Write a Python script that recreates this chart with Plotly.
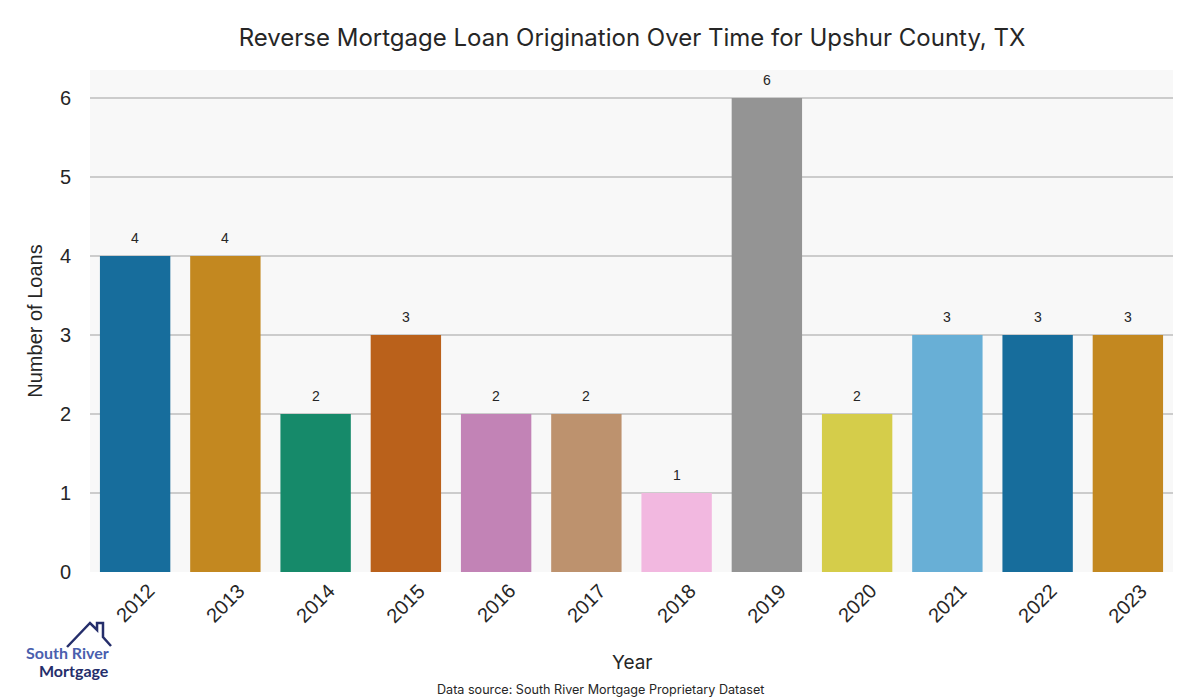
import plotly.graph_objects as go

years = ["2012", "2013", "2014", "2015", "2016", "2017", "2018", "2019", "2020", "2021", "2022", "2023"]
loans = [4, 4, 2, 3, 2, 2, 1, 6, 2, 3, 3, 3]
colors = ["#176d9c", "#c38820", "#168a6a", "#ba611b", "#c283b6", "#bd926e",
          "#f2b8e0", "#949494", "#d5cd4a", "#68afd6", "#176d9c", "#c38820"]

W, H = 1200, 700
ml, mt = 90, 70
mr = W - 1173
mb = H - 572
pw, ph = W - ml - mr, H - mt - mb


def px(x):  # page pixel -> paper
    return (x - ml) / pw


def py(y):
    return (H - mb - y) / ph


title_font = "Inter, Lato, sans-serif"
tick_font = "Liberation Sans, Arial, sans-serif"

fig = go.Figure()
fig.add_trace(go.Bar(
    x=years, y=loans, marker=dict(color=colors, line=dict(width=0)),
    width=0.78, showlegend=False, hoverinfo="x+y",
))

for i, v in enumerate(loans):
    fig.add_annotation(x=i, y=v, text=str(v), showarrow=False, yshift=18,
                       font=dict(family=tick_font, size=14, color="#262626"))

# rotated, centred category labels
for i, yr in enumerate(years):
    fig.add_annotation(x=i, y=0, text=yr, showarrow=False, yshift=-31, textangle=-45,
                       xanchor="center", yanchor="middle",
                       font=dict(family=tick_font, size=20, color="#262626"))

fig.add_annotation(x=px(632), y=py(662), xref="paper", yref="paper", text="Year",
                   showarrow=False, font=dict(family=title_font, size=19, color="#262626"),
                   xanchor="center", yanchor="middle")
fig.add_annotation(x=px(600), y=py(689), xref="paper", yref="paper",
                   text="Data source: South River Mortgage Proprietary Dataset",
                   showarrow=False, font=dict(family=title_font, size=12.6, color="#262626"),
                   xanchor="center", yanchor="middle")

# logo
fig.add_annotation(x=px(111), y=py(652), xref="paper", yref="paper", text="<b>South River</b>",
                   showarrow=False, font=dict(family="Lato, sans-serif", size=16, color="#4a5fae"),
                   xanchor="right", yanchor="middle")
fig.add_annotation(x=px(111), y=py(670), xref="paper", yref="paper", text="<b>Mortgage</b>",
                   showarrow=False, font=dict(family="Lato, sans-serif", size=16, color="#252e6b"),
                   xanchor="right", yanchor="middle")
pts = [(67, 647), (90, 623), (97, 630), (97, 623), (103, 623), (103, 637), (111, 646)]
path = "M " + " L ".join(f"{px(a):.4f},{py(b):.4f}" for a, b in pts)
fig.add_shape(type="path", path=path, xref="paper", yref="paper",
              line=dict(color="#252e6b", width=2.5))

fig.update_layout(
    width=W, height=H,
    margin=dict(l=ml, r=mr, t=mt, b=mb),
    paper_bgcolor="white", plot_bgcolor="#f8f8f8",
    title=dict(text="Reverse Mortgage Loan Origination Over Time for Upshur County, TX",
               x=px(632), xanchor="center", xref="paper",
               y=1 - 38 / H, yanchor="middle",
               font=dict(family=title_font, size=24, color="#262626")),
)
fig.update_xaxes(
    type="category", range=[-0.5, 11.5], showticklabels=False,
    showgrid=False, zeroline=False, showline=False, ticks="",
)
fig.update_yaxes(
    range=[0, (572 - 70) / 79], tickvals=[0, 1, 2, 3, 4, 5, 6],
    tickfont=dict(family=tick_font, size=20, color="#262626"),
    showgrid=True, gridcolor="#cccccc", gridwidth=1.5,
    zeroline=False, showline=False,
    ticks="outside", ticklen=14, tickcolor="rgba(0,0,0,0)",
    title=dict(text="Number of Loans", font=dict(family=tick_font, size=20, color="#262626"),
               standoff=11),
)

fig.write_html("out.html", config={"displayModeBar": False},
               post_script="document.body.style.margin='0';document.body.style.overflow='hidden';")
